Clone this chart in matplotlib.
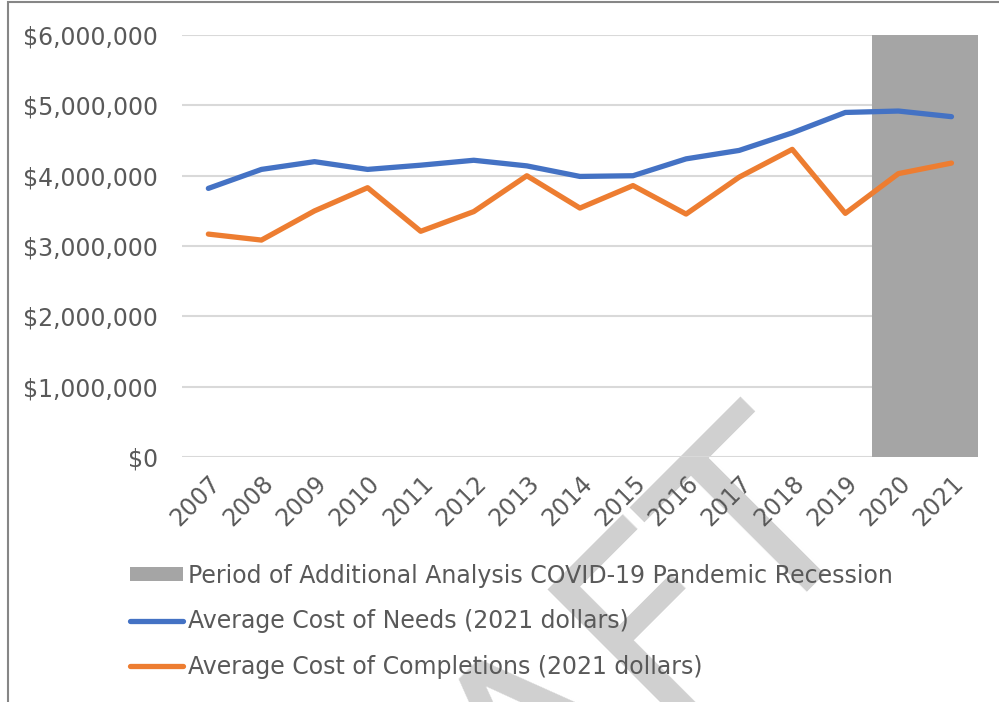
import numpy as np
import matplotlib
matplotlib.use('Agg')
import matplotlib.pyplot as plt
import matplotlib.transforms as mtransforms
from matplotlib.ticker import FuncFormatter
from matplotlib.patches import Rectangle

years = ['2007', '2008', '2009', '2010', '2011', '2012', '2013', '2014',
         '2015', '2016', '2017', '2018', '2019', '2020', '2021']
needs = [3.82, 4.09, 4.20, 4.09, 4.15, 4.22, 4.14, 3.99,
         4.00, 4.24, 4.36, 4.61, 4.90, 4.92, 4.84]
completions = [3.17, 3.085, 3.50, 3.83, 3.21, 3.49, 4.00, 3.54,
               3.86, 3.455, 3.98, 4.375, 3.465, 4.03, 4.18]
covid_years = ['2020', '2021']
covid_value = 6.0

needs = np.array(needs) * 1e6
completions = np.array(completions) * 1e6

plt.rcParams['font.family'] = ['DejaVu Sans']
text_col = '#595959'

fig = plt.figure(figsize=(9.99, 7.02), dpi=100)
ax = fig.add_axes([0.182, 0.349, 0.797, 0.601])
ax.patch.set_alpha(0)

x = np.arange(len(years))
cx = [years.index(y) for y in covid_years]
bar = ax.bar(cx, [covid_value * 1e6] * len(cx), width=1.0, color='#a5a5a5',
             label='Period of Additional Analysis COVID-19 Pandemic Recession', zorder=1)
l1, = ax.plot(x, needs, color='#4472c4', lw=3.8, solid_capstyle='round',
              label='Average Cost of Needs (2021 dollars)', zorder=3)
l2, = ax.plot(x, completions, color='#ed7d31', lw=3.8, solid_capstyle='round',
              label='Average Cost of Completions (2021 dollars)', zorder=3)

ax.set_xlim(-0.5, len(years) - 0.5)
ax.set_ylim(0, 6e6)
ax.set_yticks(np.arange(0, 6e6 + 1, 1e6))
ax.yaxis.set_major_formatter(FuncFormatter(lambda v, p: '${:,.0f}'.format(v)))
ax.set_xticks(x)
ax.set_xticklabels(years, rotation=45, ha='right', va='top', rotation_mode='anchor')
shift = mtransforms.ScaledTranslation(-7 / 100, 0, fig.dpi_scale_trans)
for lab in ax.get_xticklabels():
    lab.set_transform(lab.get_transform() + shift)
ax.grid(axis='y', color='#d9d9d9', lw=1.5, zorder=0)
ax.set_axisbelow(True)
for s in ax.spines.values():
    s.set_visible(False)
ax.tick_params(axis='both', length=0, labelsize=17, colors=text_col)
ax.tick_params(axis='y', pad=17)
ax.tick_params(axis='x', pad=10)

fig.legend([bar, l1, l2], [bar.get_label(), l1.get_label(), l2.get_label()],
           loc='upper left', bbox_to_anchor=(0.130, 0.197), frameon=False,
           fontsize=17, handlelength=2.25, handleheight=0.55, handletextpad=0.2,
           labelspacing=0.92, labelcolor=text_col, borderaxespad=0, borderpad=0)

# watermark
fig.text(0.865, 0.274, 'DRAFT', fontsize=183, color='#d0d0d0', rotation=45,
         ha='right', va='baseline', rotation_mode='anchor', zorder=-1)

# chart border
fig.patches.append(Rectangle((0.008, -0.1), 1.2, 1.097, transform=fig.transFigure,
                             fill=False, edgecolor='#868686', lw=1.5, zorder=10))

fig.savefig('out.png', dpi=100)
